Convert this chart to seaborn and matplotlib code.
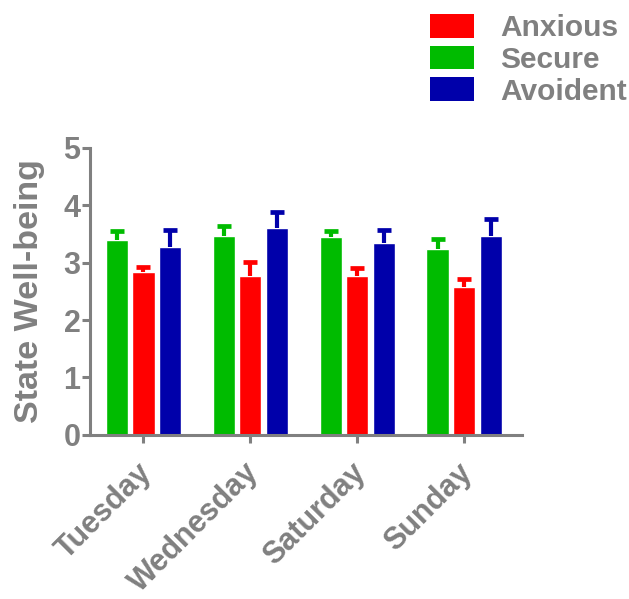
import matplotlib
matplotlib.use('Agg')
import matplotlib.pyplot as plt
import matplotlib.transforms as mtransforms
import seaborn as sns
import pandas as pd
import numpy as np
from matplotlib.patches import Patch

days = ['Tuesday', 'Wednesday', 'Saturday', 'Sunday']
groups = ['Secure', 'Anxious', 'Avoident']
legend_order = ['Anxious', 'Secure', 'Avoident']
secure_mean = [3.40, 3.47, 3.44, 3.24]
secure_err = [0.16, 0.17, 0.12, 0.17]
anxious_mean = [2.83, 2.77, 2.77, 2.57]
anxious_err = [0.10, 0.25, 0.13, 0.15]
avoident_mean = [3.28, 3.61, 3.35, 3.47]
avoident_err = [0.29, 0.28, 0.22, 0.29]

colors = {'Secure': '#00BB00', 'Anxious': '#FF0000', 'Avoident': '#0000AA'}
GRAY = '#808080'

means = {'Secure': secure_mean, 'Anxious': anxious_mean, 'Avoident': avoident_mean}
errs = {'Secure': secure_err, 'Anxious': anxious_err, 'Avoident': avoident_err}

rows = []
for g in groups:
    for d, m in zip(days, means[g]):
        rows.append({'Day': d, 'Group': g, 'Value': m})
df = pd.DataFrame(rows)

sns.set_style('white')
plt.rcParams['font.family'] = ['Liberation Sans', 'DejaVu Sans']
plt.rcParams['font.weight'] = 'bold'

fig = plt.figure(figsize=(6.29, 5.99), dpi=100)
ax = fig.add_axes([0.143, 0.274, 0.687, 0.479])

sns.barplot(data=df, x='Day', y='Value', hue='Group', hue_order=groups,
            order=days, palette=colors, width=0.75, gap=0.17, errorbar=None,
            legend=False, saturation=1, ax=ax)

for cont, g in zip(ax.containers, groups):
    xs = [p.get_x() + p.get_width() / 2 for p in cont.patches]
    ys = [p.get_height() for p in cont.patches]
    e = errs[g]
    eb = ax.errorbar(xs, ys, yerr=[[0] * len(e), e], fmt='none', ecolor=colors[g],
                     elinewidth=3.0, capsize=5, capthick=3.4, zorder=1)
    for cl in eb[1]:
        if np.allclose(np.asarray(cl.get_ydata(), dtype=float), ys):
            cl.set_visible(False)

ax.set_ylim(0, 5)
ax.set_xlim(-0.5, 3.54)
ax.set_yticks([0, 1, 2, 3, 4, 5])
for s in ['top', 'right']:
    ax.spines[s].set_visible(False)
for s in ['left', 'bottom']:
    ax.spines[s].set_color(GRAY)
    ax.spines[s].set_linewidth(2.2)

ax.tick_params(axis='both', direction='out', length=5.8, width=2.2, color=GRAY,
               labelcolor=GRAY, labelsize=22)
ax.tick_params(axis='y', pad=1, left=True)
ax.tick_params(axis='x', pad=4, bottom=True)
offset = mtransforms.ScaledTranslation(-0.07, -0.09, fig.dpi_scale_trans)
for lab in ax.get_xticklabels():
    lab.set_rotation(45)
    lab.set_ha('right')
    lab.set_rotation_mode('anchor')
    lab.set_fontweight('bold')
    lab.set_transform(lab.get_transform() + offset)
for lab in ax.get_yticklabels():
    lab.set_fontweight('bold')

ax.set_xlabel('')
ax.set_ylabel('State Well-being', fontsize=24.5, color=GRAY, fontweight='bold', labelpad=13)

handles = [Patch(facecolor=colors[g], edgecolor='none', label=g) for g in legend_order]
leg = fig.legend(handles=handles, loc='upper left', bbox_to_anchor=(0.664, 0.997),
                 frameon=False, fontsize=21.5, handlelength=1.5, handleheight=0.85,
                 handletextpad=0.85, labelspacing=0.12, borderaxespad=0)
for t in leg.get_texts():
    t.set_color(GRAY)
    t.set_fontweight('bold')

fig.savefig('out.png', dpi=100)
